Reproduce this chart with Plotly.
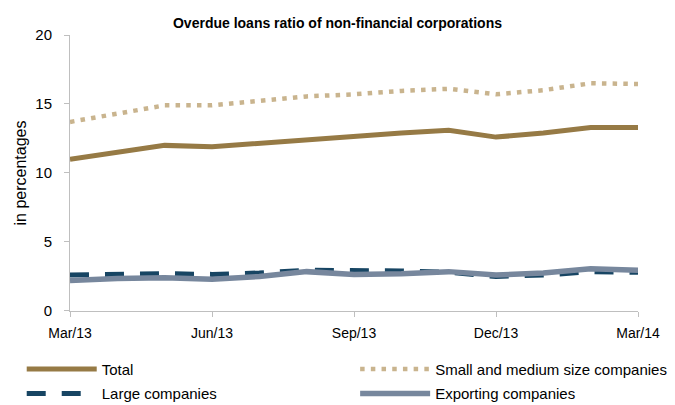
import plotly.graph_objects as go

# Monthly observations, Mar/13 - Mar/14
months = ["Mar/13", "Apr/13", "May/13", "Jun/13", "Jul/13", "Aug/13", "Sep/13",
          "Oct/13", "Nov/13", "Dec/13", "Jan/14", "Feb/14", "Mar/14"]
tick_months = ["Mar/13", "Jun/13", "Sep/13", "Dec/13", "Mar/14"]

total = [11.0, 11.5, 12.0, 11.9, 12.15, 12.45, 12.7, 12.9, 13.1, 12.6, 12.9, 13.3, 13.3]
sme = [13.7, 14.3, 14.9, 14.9, 15.2, 15.55, 15.7, 15.95, 16.1, 15.7, 16.0, 16.5, 16.45]
large = [2.6, 2.65, 2.7, 2.65, 2.75, 2.95, 2.95, 2.9, 2.8, 2.5, 2.6, 2.85, 2.8]
exporting = [2.2, 2.35, 2.4, 2.3, 2.5, 2.85, 2.65, 2.7, 2.85, 2.6, 2.75, 3.05, 2.95]

font_family = "Liberation Sans, Arial, sans-serif"

fig = go.Figure()

# left legend column: Total / Large, right column: SME / Exporting
fig.add_trace(go.Scatter(
    x=months, y=total, mode="lines", name="Total",
    line=dict(color="#967a45", width=5), legend="legend", legendgroup="a"
))
fig.add_trace(go.Scatter(
    x=months, y=sme, mode="lines", name="Small and medium size companies",
    line=dict(color="#c9b48e", width=4.5, dash="4.5px,6.2px"), legend="legend2", legendgroup="b"
))
fig.add_trace(go.Scatter(
    x=months, y=large, mode="lines", name="Large companies",
    line=dict(color="#174563", width=5, dash="19px,16px"), legend="legend", legendgroup="c"
))
fig.add_trace(go.Scatter(
    x=months, y=exporting, mode="lines", name="Exporting companies",
    line=dict(color="#77879d", width=5.5), legend="legend2", legendgroup="d"
))

# legends hang from the container so they don't push the plot margins
legend_style = dict(
    orientation="v", yref="container", y=0.129, yanchor="top", xanchor="left",
    itemwidth=70, tracegroupgap=2, traceorder="grouped",
    font=dict(family=font_family, size=15, color="#000000"),
    bgcolor="rgba(0,0,0,0)"
)

fig.update_layout(
    width=675, height=405,
    margin=dict(l=70, r=37, t=35, b=93),
    paper_bgcolor="white", plot_bgcolor="white",
    font=dict(family=font_family, size=14, color="#000000"),
    title=dict(
        text="<b>Overdue loans ratio of non-financial corporations</b>",
        x=0.5, xanchor="center", y=0.944, yanchor="middle",
        font=dict(family=font_family, size=14, color="#000000")
    ),
    showlegend=True,
    legend=dict(x=-0.085, **legend_style),
    legend2=dict(x=0.502, **legend_style),
)

fig.update_xaxes(
    type="category", range=[0, len(months) - 1],
    tickvals=tick_months, ticktext=tick_months,
    showline=True, linecolor="#bfbfbf", linewidth=1,
    ticks="outside", ticklen=5, tickcolor="#bfbfbf", ticklabelstandoff=4,
    showgrid=False, zeroline=False,
    tickfont=dict(family=font_family, size=14, color="#000000")
)
fig.update_yaxes(
    range=[0, 20], dtick=5,
    title=dict(text="in percentages", standoff=4,
               font=dict(family=font_family, size=16, color="#000000")),
    showline=True, linecolor="#bfbfbf", linewidth=1,
    ticks="outside", ticklen=5, tickcolor="#bfbfbf", ticklabelstandoff=9,
    showgrid=False, zeroline=False,
    tickfont=dict(family=font_family, size=15, color="#000000")
)

# drop the page's default body margin so the 675x405 figure fills the window
fig.write_html("out.html", config={"displayModeBar": False},
               post_script="document.body.style.margin = '0';")
